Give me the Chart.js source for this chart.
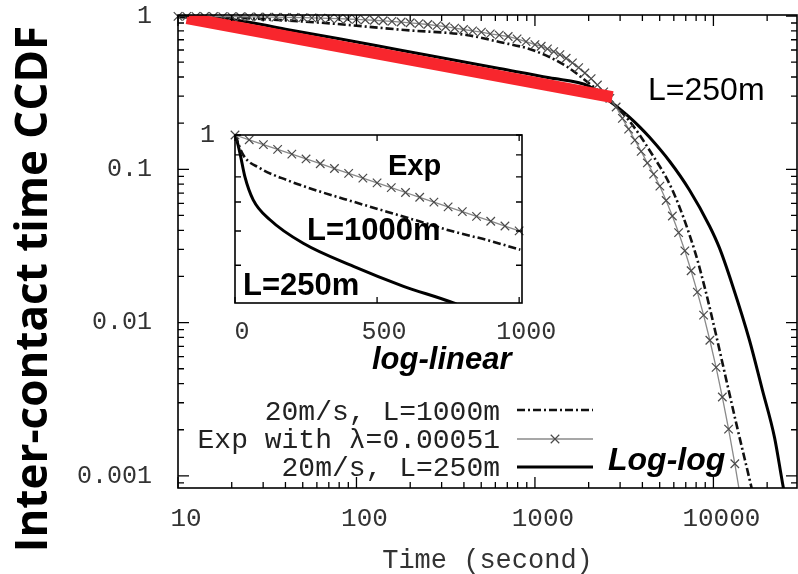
<!DOCTYPE html>
<html lang="en">
<head>
<meta charset="UTF-8">
<title>Inter-contact time CCDF</title>
<script src="https://cdn.jsdelivr.net/npm/chart.js@4.4.1/dist/chart.umd.min.js"></script>
<style>
  body { margin: 0; background: #fff; }
  #wrap { position: relative; width: 798px; height: 574px; }
  #wrap canvas { position: absolute; left: 0; top: 0; }
  #insetChart { pointer-events: none; }
</style>
</head>
<body>
<div id="wrap">
  <canvas id="mainChart" width="798" height="574"></canvas>
  <canvas id="insetChart" width="798" height="574"></canvas>
</div>
<script>
// ---------- main plot, log-log ----------
const expTime = [10, 11.2, 12.6, 14.1, 15.8, 17.8, 20, 22.4, 25.1, 28.2, 31.6, 35.5, 39.8, 44.7, 50.1, 56.2, 63.1, 70.8, 79.4, 89.1,
  100, 112, 126, 141, 158, 178, 200, 224, 251, 282, 316, 355, 398, 447, 501, 562, 631, 708, 794, 891,
  1000, 1084, 1175, 1274, 1380, 1496, 1622, 1758, 1905, 2065, 2239, 2427, 2630, 2851, 3090, 3350, 3631, 3936, 4266, 4624,
  5012, 5433, 5888, 6383, 6918, 7499, 8128, 8810, 9550, 10351, 11220, 12162, 13183, 14289, 15488];
const expCcdf = [0.995, 0.9943, 0.9936, 0.9928, 0.9920, 0.9910, 0.9898, 0.9886, 0.9873, 0.9857, 0.9840, 0.9821, 0.9799, 0.9775, 0.9748, 0.9717, 0.9683, 0.9645, 0.9603, 0.9556,
  0.9503, 0.9445, 0.9378, 0.9306, 0.9226, 0.9132, 0.9030, 0.8920, 0.8798, 0.8660, 0.8512, 0.8344, 0.8163, 0.800, 0.785, 0.765, 0.750, 0.735, 0.710, 0.680,
  0.650, 0.635, 0.610, 0.585, 0.560, 0.530, 0.495, 0.460, 0.425, 0.390, 0.355, 0.320, 0.290, 0.255, 0.215, 0.183, 0.155, 0.131, 0.110, 0.093,
  0.0776, 0.0626, 0.0496, 0.0386, 0.0294, 0.0218, 0.0158, 0.0112, 0.00767, 0.00510, 0.00327, 0.00202, 0.00120, 0.000684, 0.00037];

const time1000 = [10, 22.7, 66.2, 186, 413, 632, 968, 1500, 1942, 2612, 3381, 4375, 5888, 7826, 9016, 10260, 11670, 13620, 16320, 17200];
const ccdf1000 = [1.0, 0.970, 0.900, 0.810, 0.752, 0.677, 0.600, 0.470, 0.375, 0.283, 0.2066, 0.1336, 0.0733, 0.0298, 0.0163, 0.00868, 0.00449, 0.00205, 0.000847, 0.00065];

const time250 = [10, 20, 40, 80, 174, 332, 632, 1205, 2018, 2296, 2612, 2972, 3381, 3846, 4375, 5666, 7339, 9506, 10810, 12770, 15910, 18820, 21980, 24380, 26000];
const ccdf250 = [0.99, 0.95, 0.82, 0.71, 0.60, 0.522, 0.454, 0.395, 0.348, 0.310, 0.279, 0.249, 0.219, 0.190, 0.1624, 0.1133, 0.0733, 0.0427, 0.0307, 0.0176, 0.0077, 0.00363, 0.00179, 0.0009, 0.0006];

// red power-law guide line
const fitTime = [11.2, 2717];
const fitCcdf = [0.97, 0.296];

const legendLabels = ['20m/s, L=1000m', 'Exp with \u03bb=0.00051', '20m/s, L=250m'];
const mainXLabels = [10, 100, 1000, 10000];
const mainYLabels = [1, 0.1, 0.01, 0.001];

// ---------- inset, log-linear ----------
const insetExpTime = [0, 50, 100, 150, 200, 250, 300, 350, 400, 450, 500, 550, 600, 650, 700, 750, 800, 850, 900, 950, 1000];
const insetExpCcdf = [1, 0.9748, 0.9503, 0.9265, 0.9030, 0.8803, 0.8582, 0.8366, 0.8155, 0.7950, 0.7749, 0.7555, 0.7364, 0.7179, 0.6998, 0.6822, 0.6650, 0.6483, 0.6320, 0.6161, 0.6005];
const inset1000Time = [0, 29, 88, 182, 299, 417, 534, 651, 769, 886, 1004];
const inset1000Ccdf = [1.0, 0.899, 0.838, 0.787, 0.740, 0.701, 0.665, 0.631, 0.598, 0.572, 0.543];
const inset250Time = [0, 6, 17.6, 35, 64, 123, 240, 417, 593, 769, 820];
const inset250Ccdf = [1.0, 0.974, 0.907, 0.80, 0.708, 0.637, 0.562, 0.497, 0.447, 0.409, 0.395];
const insetXLabels = [0, 500, 1000];
const insetYTicks = [1, 0.9, 0.8, 0.7, 0.6, 0.5];

const pts = (xs, ys) => xs.map((x, i) => ({ x: x, y: ys[i] }));

// 1..9 x 10^e tick positions inside [lo, hi]
function logTicks(lo, hi) {
  const out = [];
  for (let e = Math.floor(Math.log10(lo)); e <= Math.ceil(Math.log10(hi)); e++) {
    for (let m = 1; m < 10; m++) {
      const v = m * Math.pow(10, e);
      if (v >= lo && v <= hi) out.push(v);
    }
  }
  return out;
}
const isMajor = (v, list) => list.some(l => Math.abs(l - v) < l * 1e-6);
const monoFont = size => ({ family: '"Liberation Mono", monospace', size: size });

// fix the axis box size and drop the label overhang padding, so the plot area lands where we want it
function fixSize(w, h) {
  return s => {
    if (w !== null) s.width = w;
    if (h !== null) s.height = h;
    s.paddingTop = s.paddingBottom = s.paddingLeft = s.paddingRight = 0;
  };
}

function drawFrame(chart, xMajors, yMajors, majorLen, minorLen) {
  const { ctx, chartArea: a, scales: { x, y } } = chart;
  ctx.save();
  ctx.strokeStyle = '#000';
  ctx.lineWidth = 1.3;
  ctx.beginPath();
  x.ticks.forEach(t => {
    const px = x.getPixelForValue(t.value);
    const len = isMajor(t.value, xMajors) ? majorLen : minorLen;
    ctx.moveTo(px, a.bottom); ctx.lineTo(px, a.bottom - len);
    ctx.moveTo(px, a.top); ctx.lineTo(px, a.top + len);
  });
  y.ticks.forEach(t => {
    const py = y.getPixelForValue(t.value);
    const len = isMajor(t.value, yMajors) ? majorLen : minorLen;
    ctx.moveTo(a.left, py); ctx.lineTo(a.left + len, py);
    ctx.moveTo(a.right, py); ctx.lineTo(a.right - len, py);
  });
  ctx.stroke();
  ctx.lineWidth = 1.6;
  ctx.strokeRect(a.left, a.top, a.right - a.left, a.bottom - a.top);
  ctx.restore();
}

const mainDecor = {
  id: 'mainDecor',
  afterDraw(chart) {
    const ctx = chart.ctx;
    drawFrame(chart, mainXLabels, mainYLabels, 11, 6);
    ctx.save();

    // gnuplot style key: text right aligned, then a line sample
    const keyBase = [420, 448, 476];
    const keyLine = [410, 439, 467];
    ctx.font = '28px "Liberation Mono", monospace';
    ctx.textAlign = 'right';
    ctx.textBaseline = 'alphabetic';
    ctx.fillStyle = '#222';
    for (let i = 0; i < 3; i++) {
      const ds = chart.data.datasets[i + 1];
      ctx.fillText(ds.label, 500, keyBase[i]);
      ctx.save();
      ctx.strokeStyle = ds.borderColor;
      ctx.lineWidth = ds.borderWidth;
      ctx.setLineDash(ds.borderDash || []);
      ctx.beginPath();
      ctx.moveTo(517, keyLine[i]);
      ctx.lineTo(593, keyLine[i]);
      ctx.stroke();
      ctx.restore();
      if (ds.pointStyle === 'crossRot') {
        ctx.save();
        ctx.strokeStyle = ds.pointBorderColor;
        ctx.lineWidth = ds.pointBorderWidth;
        const r = ds.pointRadius * Math.SQRT1_2;
        ctx.beginPath();
        ctx.moveTo(555 - r, keyLine[i] - r); ctx.lineTo(555 + r, keyLine[i] + r);
        ctx.moveTo(555 - r, keyLine[i] + r); ctx.lineTo(555 + r, keyLine[i] - r);
        ctx.stroke();
        ctx.restore();
      }
    }

    // y axis title
    ctx.save();
    ctx.translate(47, 289);
    ctx.rotate(-Math.PI / 2);
    ctx.font = 'bold 44px "Open Sans", sans-serif';
    ctx.textAlign = 'center';
    ctx.fillStyle = '#000';
    ctx.fillText('Inter-contact time CCDF', 0, 0);
    ctx.restore();

    ctx.fillStyle = '#000';
    ctx.textAlign = 'left';
    ctx.font = '32px "Liberation Sans", sans-serif';
    ctx.fillText('L=250m', 648, 100);
    ctx.font = 'italic bold 32px "Liberation Sans", sans-serif';
    ctx.fillText('Log-log', 608, 470);
    ctx.restore();
  }
};

const insetDecor = {
  id: 'insetDecor',
  afterDraw(chart) {
    const ctx = chart.ctx;
    drawFrame(chart, insetXLabels, [1], 6, 6);
    ctx.save();
    ctx.fillStyle = '#000';
    ctx.textAlign = 'left';
    ctx.textBaseline = 'alphabetic';
    ctx.font = 'bold 29px "Liberation Sans", sans-serif';
    ctx.fillText('Exp', 388, 175);
    ctx.font = 'bold 31px "Liberation Sans", sans-serif';
    ctx.fillText('L=1000m', 307, 240);
    ctx.fillText('L=250m', 243, 295);
    ctx.font = 'italic bold 31px "Liberation Sans", sans-serif';
    ctx.fillText('log-linear', 372, 369);
    ctx.restore();
  }
};

const expStyle = {
  borderColor: '#8a8a8a', borderWidth: 1.3, pointStyle: 'crossRot', pointRadius: 6,
  pointBorderColor: '#4a4a4a', pointBorderWidth: 1.2
};
const dashStyle = { borderColor: '#111', borderWidth: 2.6, borderDash: [8, 3, 2, 3], pointRadius: 0, cubicInterpolationMode: 'monotone' };
const solidStyle = { borderColor: '#000', borderWidth: 3, pointRadius: 0, cubicInterpolationMode: 'monotone' };

new Chart(document.getElementById('mainChart'), {
  type: 'line',
  data: {
    datasets: [
      { label: 'fit', data: pts(fitTime, fitCcdf), borderColor: '#f8262d', borderWidth: 12, borderCapStyle: 'butt', pointRadius: 0, order: 0 },
      Object.assign({ label: legendLabels[0], data: pts(time1000, ccdf1000), order: 2 }, dashStyle),
      Object.assign({ label: legendLabels[1], data: pts(expTime, expCcdf), order: 1, clip: { left: 8, top: 10, right: 0, bottom: 0 } }, expStyle),
      Object.assign({ label: legendLabels[2], data: pts(time250, ccdf250), order: 3 }, solidStyle)
    ]
  },
  options: {
    responsive: false,
    animation: false,
    devicePixelRatio: 1,
    layout: { autoPadding: false, padding: { left: 0, right: 1, top: 15, bottom: 0 } },
    plugins: { legend: { display: false }, tooltip: { enabled: false } },
    scales: {
      x: {
        type: 'logarithmic', min: 10, max: 29400,
        grid: { display: false, drawTicks: false }, border: { display: false },
        afterBuildTicks: s => { s.ticks = logTicks(10, 29400).map(v => ({ value: v })); },
        afterFit: fixSize(null, 86),
        ticks: {
          autoSkip: false, maxRotation: 0, minRotation: 0, padding: 16, labelOffset: 8,
          color: '#333', font: monoFont(26),
          callback: v => isMajor(v, mainXLabels) ? String(Math.round(v)) : ''
        },
        title: { display: true, text: 'Time (second)', color: '#333', padding: 0,
          font: { family: '"Liberation Mono", monospace', size: 27, lineHeight: 1 } }
      },
      y: {
        type: 'logarithmic', min: 0.000834, max: 1.015,
        grid: { display: false, drawTicks: false }, border: { display: false },
        afterBuildTicks: s => { s.ticks = logTicks(0.000834, 1.015).map(v => ({ value: v })); },
        afterFit: fixSize(178, null),
        ticks: {
          autoSkip: false, padding: 26, color: '#333', font: monoFont(25),
          callback: v => {
            const m = mainYLabels.find(l => Math.abs(l - v) < l * 1e-6);
            return m === undefined ? '' : String(m);
          }
        }
      }
    }
  },
  plugins: [mainDecor]
});

new Chart(document.getElementById('insetChart'), {
  type: 'line',
  data: {
    datasets: [
      Object.assign({ label: 'Exp', data: pts(insetExpTime, insetExpCcdf), clip: { left: 8, top: 8, right: 8, bottom: 0 } }, expStyle),
      Object.assign({ label: 'L=1000m', data: pts(inset1000Time, inset1000Ccdf) }, dashStyle),
      Object.assign({ label: 'L=250m', data: pts(inset250Time, inset250Ccdf) }, solidStyle)
    ]
  },
  options: {
    responsive: false,
    animation: false,
    devicePixelRatio: 1,
    layout: { autoPadding: false, padding: { left: 195, right: 276, top: 135, bottom: 221 } },
    plugins: { legend: { display: false }, tooltip: { enabled: false } },
    scales: {
      x: {
        type: 'linear', min: 0, max: 1010,
        grid: { display: false, drawTicks: false }, border: { display: false },
        afterBuildTicks: s => { s.ticks = insetXLabels.map(v => ({ value: v })); },
        afterFit: fixSize(null, 50),
        ticks: { autoSkip: false, maxRotation: 0, minRotation: 0, padding: 14, labelOffset: 7,
          color: '#333', font: monoFont(25), callback: v => String(v) }
      },
      y: {
        type: 'logarithmic', min: 0.409, max: 1,
        grid: { display: false, drawTicks: false }, border: { display: false },
        afterBuildTicks: s => { s.ticks = insetYTicks.map(v => ({ value: v })); },
        afterFit: fixSize(40, null),
        ticks: { autoSkip: false, padding: 20, color: '#333', font: monoFont(25),
          callback: v => (v === 1 ? '1' : '') }
      }
    }
  },
  plugins: [insetDecor]
});
</script>
</body>
</html>
